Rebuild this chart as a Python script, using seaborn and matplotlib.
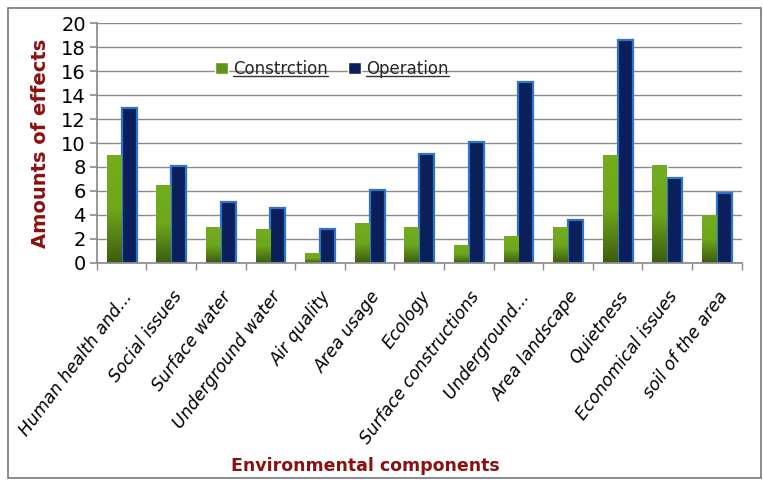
import numpy as np
import pandas as pd
import matplotlib
matplotlib.use("Agg")
import matplotlib.pyplot as plt
import seaborn as sns
from matplotlib.patches import Rectangle
from matplotlib.lines import Line2D
from matplotlib.colors import LinearSegmentedColormap

components = ["Human health and...", "Social issues", "Surface water", "Underground water",
              "Air quality", "Area usage", "Ecology", "Surface constructions",
              "Underground...", "Area landscape", "Quietness", "Economical issues",
              "soil of the area"]
construction = [9, 6.5, 3, 2.8, 0.8, 3.3, 3, 1.5, 2.2, 3, 9, 8.2, 4]
operation = [12.9, 8.1, 5.1, 4.6, 2.8, 6.1, 9.1, 10.1, 15.1, 3.6, 18.6, 7.1, 5.8]
series = ["Constrction", "Operation"]

df = pd.DataFrame({
    "component": components * 2,
    "phase": [series[0]] * len(components) + [series[1]] * len(components),
    "value": construction + operation,
})

sns.set_theme(style="white")
plt.rcParams["font.family"] = ["DejaVu Sans"]

fig = plt.figure(figsize=(7.63, 4.84), dpi=100)
ax = fig.add_axes([0.127, 0.457, 0.845, 0.495])

green = "#5f9418"
navy = "#0b1f5a"
sns.barplot(data=df, x="component", y="value", hue="phase", order=components,
            hue_order=series, palette=[green, navy], width=0.6, gap=0,
            saturation=1, ax=ax, legend=True)

# gradient on green bars, light-blue rim on navy bars
gcmap = LinearSegmentedColormap.from_list("g", ["#3d5c10", "#6ea61c", "#73ad1f"])
n = len(components)
for i, p in enumerate(ax.patches[:2 * n]):
    if i < n:
        x0, y0 = p.get_x(), p.get_y()
        w, h = p.get_width(), p.get_height()
        im = ax.imshow(np.linspace(0, 1, 100).reshape(-1, 1), cmap=gcmap, aspect="auto",
                       extent=[x0, x0 + w, y0, y0 + h], origin="lower", zorder=p.get_zorder())
        im.set_clip_path(p)
    else:
        p.set_edgecolor("#2f74c8")
        p.set_linewidth(1.6)
ax.set_xlim(-0.5, n - 0.5)
ax.set_ylim(0, 20)
ax.set_yticks(range(0, 21, 2))
ax.yaxis.grid(True, color="#8c8c8c", linewidth=1)
ax.set_axisbelow(True)
for s in ["top", "right"]:
    ax.spines[s].set_visible(False)
for s in ["left", "bottom"]:
    ax.spines[s].set_color("#8c8c8c")
ax.tick_params(axis="y", left=True, length=5, color="#8c8c8c", labelsize=14, pad=3,
               labelcolor="black")
ax.set_xticks(np.arange(n))
ax.set_xticks(np.arange(-0.5, n, 1), minor=True)
ax.tick_params(axis="x", which="major", bottom=False, pad=12, labelcolor="black")
ax.tick_params(axis="x", which="minor", bottom=True, length=5, color="#8c8c8c")
ax.set_xticklabels(components, rotation=53, ha="right", rotation_mode="anchor",
                   fontsize=12.3, fontstyle="italic")
ax.set_xlabel("")
ax.set_ylabel("Amounts of effects", fontsize=14, fontweight="bold", color="#8b1010", labelpad=8)

leg = ax.legend(loc="upper left", bbox_to_anchor=(0.16, 0.91), ncol=2, frameon=False,
                fontsize=12, handlelength=0.8, handleheight=0.8, columnspacing=1.2,
                handletextpad=0.3)

fig.text(365 / 763, 1 - 466 / 484, "Environmental components", ha="center", va="center",
         fontsize=12.5, fontweight="bold", color="#8b1010")

fig.patches.append(Rectangle((0.011, 0.012), 0.986, 0.971, transform=fig.transFigure,
                             fill=False, edgecolor="#777777", linewidth=1.2))

# underline legend texts
fig.canvas.draw()
inv = fig.transFigure.inverted()
for t in leg.get_texts():
    bb = t.get_window_extent(renderer=fig.canvas.get_renderer()).transformed(inv)
    y = bb.y0 + 0.003
    fig.lines.append(Line2D([bb.x0, bb.x1], [y, y], transform=fig.transFigure,
                            color="#333333", linewidth=1))

fig.savefig("out.png", dpi=100)
